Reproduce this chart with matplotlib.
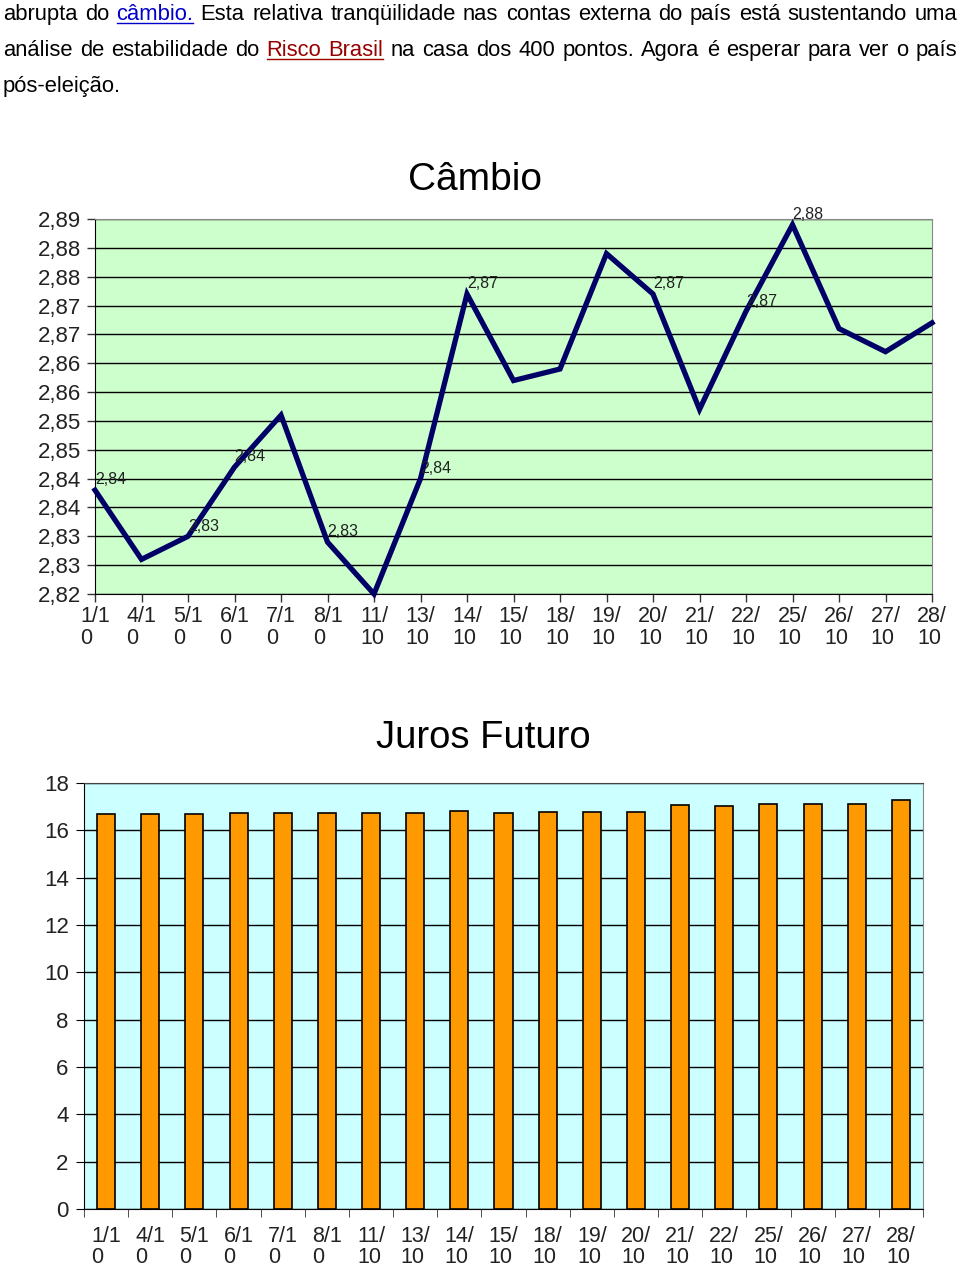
import matplotlib
matplotlib.use("Agg")
import matplotlib.pyplot as plt
from matplotlib.lines import Line2D
import numpy as np

plt.rcParams['font.family'] = ['Liberation Sans', 'DejaVu Sans']

# data
datas = ["1/10", "4/10", "5/10", "6/10", "7/10", "8/10", "11/10", "13/10", "14/10",
         "15/10", "18/10", "19/10", "20/10", "21/10", "22/10", "25/10", "26/10",
         "27/10", "28/10"]
cambio = [2.838, 2.826, 2.830, 2.842, 2.851, 2.829, 2.820, 2.840, 2.872,
          2.857, 2.859, 2.879, 2.872, 2.852, 2.869, 2.884, 2.866, 2.862, 2.867]
# pontos que levam rótulo no original
rotulados = ["1/10", "5/10", "6/10", "8/10", "13/10", "14/10", "20/10", "22/10", "25/10"]
juros = [16.68, 16.68, 16.68, 16.75, 16.75, 16.75, 16.75, 16.75, 16.82,
         16.72, 16.79, 16.79, 16.79, 17.07, 17.04, 17.12, 17.12, 17.12, 17.27]

linhas_texto = [
    [("abrupta do ", None), ("câmbio.", "#0000cc"),
     (" Esta relativa tranqüilidade nas contas externa do país está sustentando uma", None)],
    [("análise de estabilidade do ", None), ("Risco Brasil", "#990000"),
     (" na casa dos 400 pontos. Agora é esperar para ver o país", None)],
    [("pós-eleição.", None)],
]


def quebra(rotulo):
    # Excel quebrou os rótulos em 3 caracteres
    return rotulo[:3] + "\n" + rotulo[3:]


fig = plt.figure(figsize=(9.6, 12.69), dpi=100)
W, H = 960, 1269
renderer = fig.canvas.get_renderer()

# ---- paragraph (justified) ----
x0, x1 = 3, 957
baselines = [20, 56, 92]
fs_txt = 15.8
for li, (segs, base) in enumerate(zip(linhas_texto, baselines)):
    words = []
    for si, (txt, cor) in enumerate(segs):
        for w in txt.split(" "):
            if w:
                words.append((w, cor, si))
    widths = []
    arts = []
    for w, cor, si in words:
        t = fig.text(0, 1 - base / H, w, fontsize=fs_txt, color=cor or "black",
                     va="baseline", ha="left")
        widths.append(t.get_window_extent(renderer).width)
        arts.append(t)
    last = li == len(linhas_texto) - 1
    if last or len(words) < 2:
        gap = fs_txt * 0.38
    else:
        gap = (x1 - x0 - sum(widths)) / (len(words) - 1)
    x = x0
    spans = {}
    for (w, cor, si), t, wd in zip(words, arts, widths):
        t.set_x(x / W)
        if cor:
            a, b = spans.get(si, (x, x + wd))
            spans[si] = (min(a, x), x + wd)
        x += wd + gap
    for si, (a, b) in spans.items():
        fig.add_artist(Line2D([a / W, b / W], [1 - (base + 3) / H] * 2,
                              color=segs[si][1], lw=1))

xs = np.arange(len(datas))

# ---- Câmbio ----
ax1 = fig.add_axes([95 / W, 1 - 594 / H, (932 - 95) / W, (594 - 219) / H])
ax1.set_facecolor("#ccffcc")
ax1.plot(xs, cambio, color="#000066", lw=3.8, solid_joinstyle="miter", zorder=3, clip_on=False)
yt = np.round(np.arange(2.820, 2.8851, 0.005), 3)
ax1.set_ylim(2.820, 2.885)
ax1.set_xlim(0, len(datas) - 1)
ax1.set_yticks(yt)
ax1.set_yticklabels([f"{int(v * 100 + 0.5 + 1e-6) / 100:.2f}".replace(".", ",") for v in yt],
                    fontsize=16, color="#222222")
ax1.set_xticks(xs)
ax1.set_xticklabels([quebra(d) for d in datas], fontsize=15.5, linespacing=1.0,
                    color="#222222", multialignment="left")
ax1.grid(axis="y", color="black", lw=1)
ax1.set_axisbelow(True)
ax1.tick_params(axis="both", direction="out", length=6, width=1, color="#333333")
ax1.tick_params(axis="y", pad=4)
ax1.tick_params(axis="x", pad=3)
for s in ["top", "right"]:
    ax1.spines[s].set_color("#888888")
ax1.spines["left"].set_color("black")
ax1.spines["bottom"].set_color("black")
for d in rotulados:
    i = datas.index(d)
    v = cambio[i]
    ax1.annotate(f"{v:.2f}".replace(".", ","), (i, v), xytext=(0, 2), textcoords="offset points",
                 fontsize=11.5, ha="left", va="bottom", color="#222222", zorder=4)
fig.text(475 / W, 1 - 180 / H, "Câmbio", fontsize=28, ha="center", va="center")

# ---- Juros Futuro ----
ax2 = fig.add_axes([84 / W, 1 - 1209 / H, (923 - 84) / W, (1209 - 783) / H])
ax2.set_facecolor("#ccffff")
ax2.bar(xs, juros, width=0.41, color="#ff9900", edgecolor="black", lw=1.2, zorder=3)
ax2.set_xlim(-0.5, len(datas) - 0.5)
ax2.set_ylim(0, 18)
ax2.set_yticks(np.arange(0, 19, 2))
ax2.tick_params(axis="y", labelsize=16, labelcolor="#222222", direction="out", length=6, pad=5)
ax2.set_xticks(xs)
ax2.set_xticklabels([quebra(d) for d in datas], fontsize=15.5, linespacing=1.05,
                    color="#222222", multialignment="left")
ax2.set_xticks(np.arange(-0.5, len(datas), 1), minor=True)
ax2.tick_params(axis="x", which="major", length=0, pad=12)
ax2.tick_params(axis="x", which="minor", direction="out", length=6, color="#333333")
ax2.grid(axis="y", color="black", lw=1)
ax2.set_axisbelow(True)
ax2.spines["top"].set_color("#444444")
ax2.spines["right"].set_color("#888888")
fig.text(483 / W, 1 - 738 / H, "Juros Futuro", fontsize=27.5, ha="center", va="center")

fig.savefig("out.png", dpi=100)
